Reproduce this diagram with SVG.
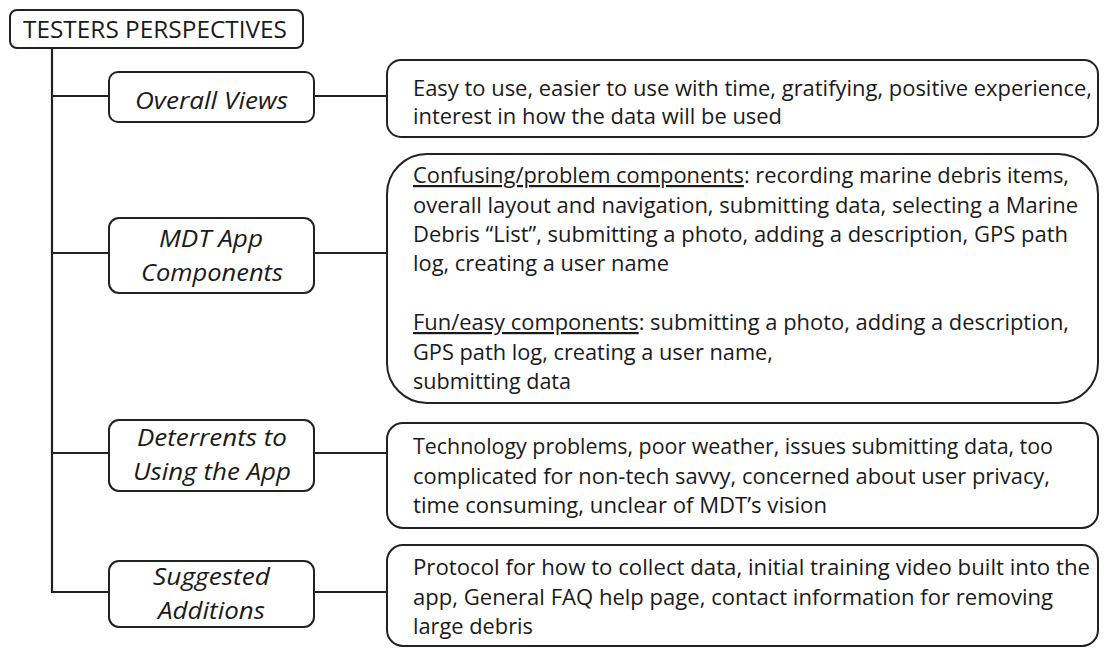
<svg xmlns="http://www.w3.org/2000/svg" width="1105" height="648" viewBox="0 0 1105 648">
<style>
  .box { fill: #ffffff; stroke: #222222; stroke-width: 2; }
  .conn { fill: none; stroke: #222222; stroke-width: 2.2; }
  .title { font-family: "Open Sans", "Liberation Sans", sans-serif; font-size: 24.5px; fill: #1a1a1a; }
  .cat { font-family: "Open Sans", "Liberation Sans", sans-serif; font-size: 24px; font-style: italic; fill: #1a1a1a; }
  .body { font-family: "Open Sans", "Liberation Sans", sans-serif; font-size: 22px; fill: #1a1a1a; }
  .u { text-decoration: underline; }
</style>
<rect width="1105" height="648" fill="#ffffff"/>

<g id="connectors">
  <line class="conn" x1="52" y1="48" x2="52" y2="593"/>
  <line class="conn" x1="51" y1="96" x2="109" y2="96"/>
  <line class="conn" x1="51" y1="253" x2="109" y2="253"/>
  <line class="conn" x1="51" y1="453" x2="109" y2="453"/>
  <line class="conn" x1="51" y1="592" x2="109" y2="592"/>
  <line class="conn" x1="314" y1="96" x2="387" y2="96"/>
  <line class="conn" x1="314" y1="253" x2="387" y2="253"/>
  <line class="conn" x1="314" y1="453" x2="387" y2="453"/>
  <line class="conn" x1="314" y1="592" x2="387" y2="592"/>
</g>

<g id="title">
  <rect class="box" x="10" y="10" width="293" height="38" rx="7"/>
  <text class="title" x="23" y="37.5" textLength="264" lengthAdjust="spacingAndGlyphs">TESTERS PERSPECTIVES</text>
</g>

<g id="overall-views">
  <rect class="box" x="109" y="72" width="205" height="50" rx="9"/>
  <text class="cat" x="135" y="109" textLength="153" lengthAdjust="spacingAndGlyphs">Overall Views</text>
</g>

<g id="mdt-app-components">
  <rect class="box" x="109" y="218" width="205" height="75" rx="10"/>
  <text class="cat" x="159" y="247" textLength="104" lengthAdjust="spacingAndGlyphs">MDT App</text>
  <text class="cat" x="141" y="281" textLength="142" lengthAdjust="spacingAndGlyphs">Components</text>
</g>

<g id="deterrents">
  <rect class="box" x="109" y="420" width="205" height="71" rx="10"/>
  <text class="cat" x="137" y="446" textLength="150" lengthAdjust="spacingAndGlyphs">Deterrents to</text>
  <text class="cat" x="133" y="480" textLength="158" lengthAdjust="spacingAndGlyphs">Using the App</text>
</g>

<g id="suggested-additions">
  <rect class="box" x="109" y="561" width="205" height="66" rx="10"/>
  <text class="cat" x="153" y="585" textLength="117" lengthAdjust="spacingAndGlyphs">Suggested</text>
  <text class="cat" x="158" y="619" textLength="107" lengthAdjust="spacingAndGlyphs">Additions</text>
</g>

<g id="overall-views-detail">
  <rect class="box" x="387" y="60" width="711" height="77" rx="14"/>
  <text class="body" x="413" y="96" textLength="679" lengthAdjust="spacingAndGlyphs">Easy to use, easier to use with time, gratifying, positive experience,</text>
  <text class="body" x="413" y="124" textLength="369" lengthAdjust="spacingAndGlyphs">interest in how the data will be used</text>
</g>

<g id="mdt-app-detail">
  <rect class="box" x="387" y="154" width="711" height="249" rx="40"/>
  <text class="body" x="413" y="183" textLength="656" lengthAdjust="spacingAndGlyphs"><tspan class="u">Confusing/problem components</tspan>: recording marine debris items,</text>
  <text class="body" x="413" y="212.5" textLength="665" lengthAdjust="spacingAndGlyphs">overall layout and navigation, submitting data, selecting a Marine</text>
  <text class="body" x="413" y="242" textLength="655" lengthAdjust="spacingAndGlyphs">Debris “List”, submitting a photo, adding a description, GPS path</text>
  <text class="body" x="413" y="271" textLength="256" lengthAdjust="spacingAndGlyphs">log, creating a user name</text>
  <text class="body" x="413" y="330" textLength="656" lengthAdjust="spacingAndGlyphs"><tspan class="u">Fun/easy components</tspan>: submitting a photo, adding a description,</text>
  <text class="body" x="413" y="359.5" textLength="360" lengthAdjust="spacingAndGlyphs">GPS path log, creating a user name,</text>
  <text class="body" x="413" y="389" textLength="158" lengthAdjust="spacingAndGlyphs">submitting data</text>
</g>

<g id="deterrents-detail">
  <rect class="box" x="387" y="423" width="711" height="105" rx="16"/>
  <text class="body" x="413" y="454" textLength="640" lengthAdjust="spacingAndGlyphs">Technology problems, poor weather, issues submitting data, too</text>
  <text class="body" x="413" y="483.5" textLength="637" lengthAdjust="spacingAndGlyphs">complicated for non-tech savvy, concerned about user privacy,</text>
  <text class="body" x="413" y="513" textLength="414" lengthAdjust="spacingAndGlyphs">time consuming, unclear of MDT’s vision</text>
</g>

<g id="suggested-detail">
  <rect class="box" x="387" y="545" width="711" height="101" rx="16"/>
  <text class="body" x="413" y="575" textLength="677" lengthAdjust="spacingAndGlyphs">Protocol for how to collect data, initial training video built into the</text>
  <text class="body" x="413" y="604.5" textLength="640" lengthAdjust="spacingAndGlyphs">app, General FAQ help page, contact information for removing</text>
  <text class="body" x="413" y="634" textLength="120" lengthAdjust="spacingAndGlyphs">large debris</text>
</g>
</svg>
